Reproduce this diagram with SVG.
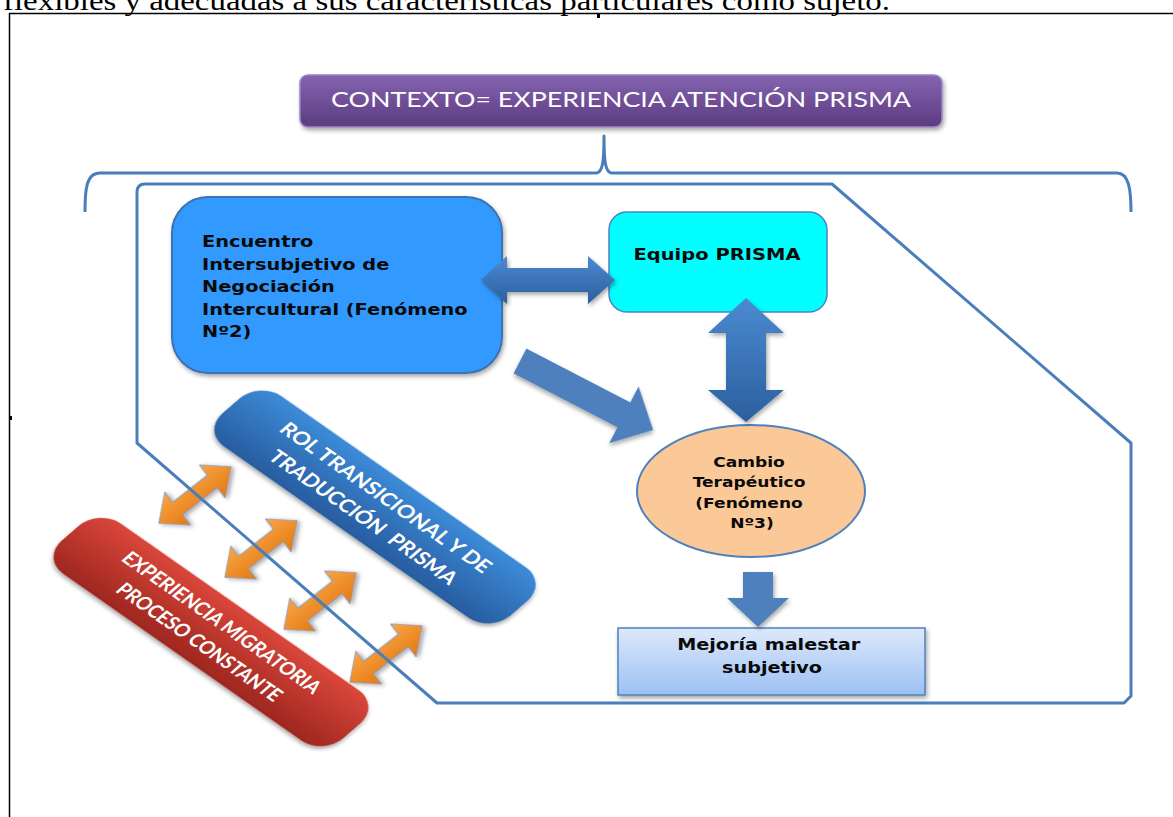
<svg xmlns="http://www.w3.org/2000/svg" width="1173" height="817" viewBox="0 0 1173 817">
<style>
.frame{fill:none;stroke:#4a7ebb;stroke-width:3;stroke-linejoin:round}
.lbl{font-family:"DejaVu Sans",Verdana,sans-serif;font-weight:bold;fill:#0a0a0a}
.wht{font-family:Lato,"Open Sans",sans-serif;font-weight:bold;fill:#fff}
.page{stroke:#000;stroke-width:1.5;fill:none}
.barrow{fill:url(#blueArrowG);filter:url(#sh)}
.oarrow{fill:url(#orangeG);stroke:#8497b8;stroke-width:1;filter:url(#sh)}
</style>
<defs>
<filter id="sh" x="-20%" y="-20%" width="150%" height="160%"><feDropShadow dx="1.5" dy="2.5" stdDeviation="2" flood-color="#000" flood-opacity="0.35"/></filter>
<linearGradient id="purpleG" x1="0" y1="0" x2="0" y2="1"><stop offset="0" stop-color="#8463b1"/><stop offset="1" stop-color="#5c3c7f"/></linearGradient>
<linearGradient id="blueArrowG" x1="0" y1="0" x2="0" y2="1"><stop offset="0" stop-color="#4b8ad0"/><stop offset="1" stop-color="#2b5f9f"/></linearGradient>
<linearGradient id="mejG" x1="0" y1="0" x2="0" y2="1"><stop offset="0" stop-color="#dde9fb"/><stop offset="1" stop-color="#9cc0f3"/></linearGradient>
<linearGradient id="rolG" x1="0" y1="0" x2="0" y2="1"><stop offset="0" stop-color="#3c8bd8"/><stop offset="1" stop-color="#285c9f"/></linearGradient>
<linearGradient id="expG" x1="0" y1="0" x2="0" y2="1"><stop offset="0" stop-color="#da463b"/><stop offset="1" stop-color="#9e271f"/></linearGradient>
<linearGradient id="orangeG" x1="0" y1="0" x2="0" y2="1"><stop offset="0" stop-color="#f9a646"/><stop offset="1" stop-color="#e37810"/></linearGradient>
<polygon id="oarr" points="-46,0 -22,-21 -22,-8 22,-8 22,-21 46,0 22,21 22,8 -22,8 -22,21"/>
</defs>
<rect width="1173" height="817" fill="#fff"/>

<g id="page">
<text x="3" y="10" font-family="'Liberation Serif','Times New Roman',serif" font-size="27" textLength="887" lengthAdjust="spacingAndGlyphs" fill="#000">flexibles y adecuadas a sus características particulares como sujeto.</text>
<line class="page" x1="9" y1="13.5" x2="1173" y2="13.5"/>
<line class="page" x1="9.5" y1="13" x2="9.5" y2="817"/>
<rect x="597" y="13" width="3" height="5" fill="#000"/>
<rect x="9" y="416" width="3" height="4" fill="#000"/>
</g>

<g id="frame">
<path class="frame" d="M85,212 C85,190 86,173 100,173 L596,173 C603,173 604,160 604,136 C604,160 605,173 612,173 L1117,173 C1129,173 1131,190 1131,212"/>
</g>

<g id="contexto">
<rect x="300" y="75" width="642" height="52" rx="8" fill="url(#purpleG)" stroke="#9b86c2" stroke-width="1.5" filter="url(#sh)"/>
<text x="621" y="107" text-anchor="middle" font-family="Lato,'Open Sans',sans-serif" font-size="22" fill="#fff" textLength="580" lengthAdjust="spacingAndGlyphs">CONTEXTO= EXPERIENCIA ATENCIÓN PRISMA</text>
</g>

<g id="encuentro">
<rect x="172" y="197" width="330" height="176" rx="36" fill="#3399ff" stroke="#3c72b0" stroke-width="2" filter="url(#sh)"/>
<text class="lbl" font-size="16" transform="translate(202,0) scale(1.21,1)">
<tspan x="0" y="247">Encuentro</tspan>
<tspan x="0" y="270">Intersubjetivo de</tspan>
<tspan x="0" y="292">Negociación</tspan>
<tspan x="0" y="315">Intercultural (Fenómeno</tspan>
<tspan x="0" y="337">Nº2)</tspan>
</text>
</g>

<g id="equipo">
<rect x="609" y="212" width="218" height="100" rx="18" fill="#00ffff" stroke="#4f81bd" stroke-width="1.5"/>
<text class="lbl" font-size="16" text-anchor="middle" transform="translate(717,0) scale(1.22,1)"><tspan x="0" y="260">Equipo PRISMA</tspan></text>
</g>

<g id="cambio">
<ellipse cx="751" cy="491" rx="114" ry="66" fill="#fbc897" stroke="#4f81bd" stroke-width="2"/>
<text class="lbl" font-size="14" text-anchor="middle" transform="translate(752,0) scale(1.22,1)">
<tspan x="0" y="467">Cambio</tspan>
<tspan x="0" y="487">Terapéutico</tspan>
<tspan x="0" y="508">(Fenómeno</tspan>
<tspan x="0" y="528">Nº3)</tspan>
</text>
</g>

<g id="mejoria">
<rect x="618" y="628" width="307" height="67" fill="url(#mejG)" stroke="#4f81bd" stroke-width="1.5" filter="url(#sh)"/>
<text class="lbl" font-size="16" text-anchor="middle" transform="translate(772,0) scale(1.2,1)">
<tspan x="0" y="650">Mejoría malestar</tspan>
<tspan x="0" y="673">subjetivo</tspan>
</text>
</g>

<g id="rol">
<g transform="translate(375,507) rotate(35) skewX(-14)">
<rect x="-176" y="-37" width="352" height="74" rx="26" fill="url(#rolG)" filter="url(#sh)"/>
<text class="wht" font-size="20" text-anchor="middle" x="0" y="-7" textLength="250" lengthAdjust="spacingAndGlyphs">ROL TRANSICIONAL Y DE</text>
<text class="wht" font-size="20" text-anchor="middle" x="0" y="22" textLength="222" lengthAdjust="spacingAndGlyphs" xml:space="preserve">TRADUCCIÓN  PRISMA</text>
</g>
</g>

<g id="experiencia">
<g transform="translate(211,632) rotate(35) skewX(-14)">
<rect x="-172" y="-37" width="344" height="74" rx="26" fill="url(#expG)" filter="url(#sh)"/>
<text class="wht" font-size="20" text-anchor="middle" x="0" y="-7" textLength="235" lengthAdjust="spacingAndGlyphs">EXPERIENCIA MIGRATORIA</text>
<text class="wht" font-size="20" text-anchor="middle" x="0" y="22" textLength="194" lengthAdjust="spacingAndGlyphs">PROCESO CONSTANTE</text>
</g>
</g>

<g id="connectors">
<polygon class="barrow" points="481,280 507,256 507,268 588,268 588,256 615,280 588,304 588,292 507,292 507,304"/>
<polygon class="barrow" points="746,298 784,333 766,333 766,390 784,390 746,422 708,390 726,390 726,333 708,333"/>
<polygon fill="#4d80bc" filter="url(#sh)" transform="translate(520,361) rotate(27.4)" points="0,-14 117,-14 117,-32 150,0 117,32 117,14 0,14"/>
<polygon fill="#4d80bc" filter="url(#sh)" points="743,572 773,572 773,598 789,598 758,627 727,598 743,598"/>
<use href="#oarr" class="oarrow" transform="translate(195,495) rotate(-38)"/>
<use href="#oarr" class="oarrow" transform="translate(261,549) rotate(-38)"/>
<use href="#oarr" class="oarrow" transform="translate(320,601) rotate(-38)"/>
<use href="#oarr" class="oarrow" transform="translate(386,654) rotate(-38)"/>
</g>

<g id="context-outline">
<path class="frame" d="M137,443 L137,192 Q137,184 145,184 L832,184 L1131,443 L1131,696 L1124,703 L437,703 Z"/>
</g>
</svg>
